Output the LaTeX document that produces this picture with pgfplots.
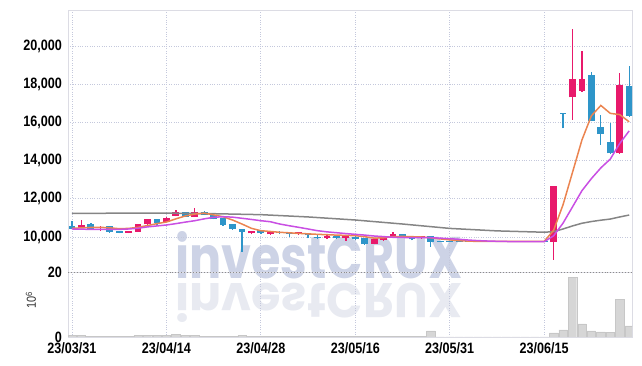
\documentclass[border=0pt]{standalone}
\usepackage{pgfplots}
\pgfplotsset{compat=1.18}
\usepackage{pgfplotstable}
\usepackage{fontspec}
\setmainfont{Liberation Sans}
\newfontfamily\tickfont[FakeStretch=0.84]{Liberation Sans}
\newfontfamily\wmfont{Poppins}
\definecolor{upc}{HTML}{E8196B}
\definecolor{dnc}{HTML}{2E95C9}
\definecolor{maA}{HTML}{EB8450}
\definecolor{maB}{HTML}{C94FE3}
\definecolor{maC}{HTML}{858585}
\definecolor{gridc}{HTML}{C4C8DC}
\definecolor{wm}{HTML}{CDD3E6}
\definecolor{wmr}{HTML}{E8EAF1}
\definecolor{volc}{HTML}{D6D6D6}
\definecolor{framec}{HTML}{DCDCE4}

\pgfplotstableread{
x o h l c
1 10524 10890 10500 10628
3 10470 10560 10330 10540
6 10225 10330 10200 10314
7 10280 10700 10260 10680
8 10665 10960 10650 10942
10 10800 11063 10780 10980
11 11100 11400 11080 11325
13 11063 11500 11040 11293
19 10190 10330 10140 10314
21 10140 10340 10120 10330
24 10140 10260 10120 10245
27 9930 10090 9920 10070
29 9930 10060 9800 10050
32 9635 9890 9620 9880
33 9840 9960 9780 9930
34 9965 10250 9950 10140
37 9930 10060 9910 10050
51 9755 12680 8800 12680
53 17314 20875 16126 18257
54 17660 19733 17600 18257
58 14380 18570 14350 17940
}\updata

\pgfplotstableread{
x o h l c
0 10576 10838 10400 10435
2 10680 10720 10400 10435
4 10576 10600 10230 10280
5 10314 10340 10190 10225
9 10942 10960 10650 10717
12 11293 11330 11040 11063
14 11293 11380 11150 11150
15 11150 11160 10925 10925
16 10980 11000 10580 10628
17 10680 10700 10380 10420
18 10400 10420 9215 10280
20 10366 10380 10150 10190
22 10280 10300 10150 10190
23 10200 10280 9980 10180
25 10190 10230 9930 10090
26 10020 10100 9890 10000
28 10050 10070 9900 9930
30 10020 10040 9860 9880
31 9930 9950 9600 9620
35 10140 10160 9950 9965
36 9965 10000 9830 9880
38 10050 10070 9490 9755
39 9790 9790 9760 9760
40 9790 9790 9760 9760
41 9790 9790 9760 9760
42 9790 9790 9760 9760
43 9790 9790 9760 9760
44 9790 9790 9760 9760
45 9790 9790 9760 9760
46 9790 9790 9760 9760
47 9790 9790 9760 9760
48 9790 9790 9760 9760
49 9790 9790 9760 9760
50 9790 9790 9760 9760
52 16470 16480 15690 16440
55 18483 18655 16050 16090
56 15775 16390 14820 15380
57 14960 15950 14350 14380
59 17900 18940 16300 16350
}\dndata

\pgfplotstableread{
x y
0 10455
1 10480
2 10500
3 10507
4 10480
5 10435
6 10450
7 10507
8 10600
9 10700
10 10785
11 10950
12 11100
13 11200
14 11250
15 11160
16 11060
17 10890
18 10680
19 10455
20 10330
21 10290
22 10246
23 10220
24 10190
25 10165
26 10140
27 10120
28 10100
29 10085
30 10070
31 10016
32 9940
33 9960
34 10016
35 10030
36 10016
37 10000
38 9960
39 9900
40 9850
41 9810
42 9785
43 9770
44 9770
45 9770
46 9770
47 9770
48 9770
49 9770
50 9770
51 10352
52 11692
53 13385
54 15083
55 16347
56 16887
57 16473
58 16409
59 16028
}\maAdata

\pgfplotstableread{
x y
0 10420
1 10410
2 10400
3 10400
4 10400
5 10400
6 10420
7 10460
8 10530
9 10580
10 10628
11 10700
12 10780
13 10853
14 10950
15 11030
16 11063
17 11040
18 10980
19 10920
20 10853
21 10800
22 10680
23 10590
24 10507
25 10420
26 10330
27 10270
28 10225
29 10180
30 10140
31 10100
32 10052
33 10020
34 9985
35 9975
36 9970
37 9968
38 9965
39 9940
40 9910
41 9880
42 9840
43 9810
44 9790
45 9775
46 9765
47 9760
48 9757
49 9755
50 9755
51 10061
52 10729
53 11578
54 12426
55 13058
56 13619
57 14080
58 14897
59 15555
}\maBdata

\pgfplotstableread{
x y
0 11240
5 11245
10 11250
15 11220
20 11170
25 11050
30 10890
35 10680
40 10450
45 10320
50 10250
51 10280
52 10420
53 10580
54 10720
55 10810
56 10880
57 10940
58 11050
59 11150
}\maCdata

\pgfplotstableread{
x v
0 0.5
1 0.4
2 0.2
3 0.15
4 0.2
5 0.15
6 0.2
7 0.4
8 0.45
9 0.4
10 0.5
11 0.8
12 0.5
13 0.45
14 0.3
15 0.2
16 0.25
17 0.2
18 0.5
19 0.2
20 0.2
21 0.2
22 0.15
23 0.2
24 0.15
25 0.2
26 0.15
27 0.15
28 0.2
29 0.15
30 0.2
31 0.25
32 0.2
33 0.15
34 0.2
35 0.15
36 0.15
37 0.2
38 1.9
39 0
40 0
41 0
42 0
43 0
44 0
45 0
46 0
47 0
48 0
49 0
50 0
51 1.3
52 2.2
53 18.4
54 4.0
55 1.9
56 1.6
57 1.4
58 11.6
59 3.4
}\voldata

\begin{document}
\begin{tikzpicture}[x=1pt,y=1pt]
\useasboundingbox (0,0) rectangle (642,366);
% watermark
\node[anchor=south west, inner sep=0pt, text=wm] at (175,87) {\resizebox{287pt}{47pt}{\wmfont\bfseries investCRUX}};
\node[anchor=north west, inner sep=0pt, text=wmr] at (175,83) {\scalebox{1}[-1]{\resizebox{287pt}{39pt}{\wmfont\bfseries investCRUX}}};

\begin{axis}[
  at={(68pt,94pt)}, anchor=south west, scale only axis,
  width=564pt, height=262pt,
  xmin=-0.42, xmax=59.3, ymin=8168, ymax=21885,
  xtick={0,10,...,50}, xticklabels={},
  ytick={10000,12000,...,20000},
  scaled y ticks=false,
  /pgf/number format/assume math mode=true,
  /pgf/number format/1000 sep={,},
  yticklabel style={font=\tickfont\bfseries\fontsize{15}{15}\selectfont, inner sep=0pt, xshift=-6pt},
  grid=major, major grid style={dotted, gridc, line width=0.9pt},
  axis line style={draw=framec},
  tick style={draw=none},
  candle/.style={draw=none, no marks, forget plot,
    error bars/.cd, y dir=plus, y explicit, error mark=none},
]
% wicks
\addplot[candle, error bar style={line width=1.3pt, draw=upc, solid}]
  table[x=x, y=l, y error plus expr=\thisrow{h}-\thisrow{l}] {\updata};
\addplot[candle, error bar style={line width=1.3pt, draw=dnc, solid}]
  table[x=x, y=l, y error plus expr=\thisrow{h}-\thisrow{l}] {\dndata};
% bodies
\addplot[candle, error bar style={line width=6.8pt, draw=upc, solid}]
  table[x=x, y=o, y error plus expr=\thisrow{c}-\thisrow{o}] {\updata};
\addplot[candle, error bar style={line width=6.8pt, draw=dnc, solid}]
  table[x=x, y=c, y error plus expr=\thisrow{o}-\thisrow{c}] {\dndata};
% moving averages
\addplot[maC, line width=1.5pt, mark=none] table[x=x,y=y] {\maCdata};
\addplot[maA, line width=1.5pt, mark=none] table[x=x,y=y] {\maAdata};
\addplot[maB, line width=1.5pt, mark=none] table[x=x,y=y] {\maBdata};
\end{axis}

\begin{axis}[
  at={(68pt,29pt)}, anchor=south west, scale only axis,
  width=564pt, height=65pt,
  xmin=-0.42, xmax=59.3, ymin=0, ymax=20,
  xtick={0,10,...,50},
  xticklabels={23/03/31,23/04/14,23/04/28,23/05/16,23/05/31,23/06/15},
  ytick={0,20},
  /pgf/number format/assume math mode=true,
  xticklabel style={font=\tickfont\bfseries\fontsize{15}{15}\selectfont, inner sep=0pt, yshift=-5pt},
  yticklabel style={font=\tickfont\bfseries\fontsize{15}{15}\selectfont, inner sep=0pt, xshift=-6pt},
  xmajorgrids, major grid style={dotted, gridc, line width=0.9pt},
  axis line style={draw=framec},
  tick style={draw=none},
]
\addplot[ybar, bar width=8.4pt, fill=volc, draw=black!22, line width=0.4pt] table[x=x,y=v] {\voldata};
\end{axis}
\draw[dotted, line width=0.9pt, black!45] (68,94) -- (632,94);
\node[rotate=90, inner sep=0pt, text=black!80] at (31,66) {\tickfont\fontsize{13}{13}\selectfont 10\raisebox{0.55ex}{\fontsize{9}{9}\selectfont 6}};
\end{tikzpicture}
\end{document}
